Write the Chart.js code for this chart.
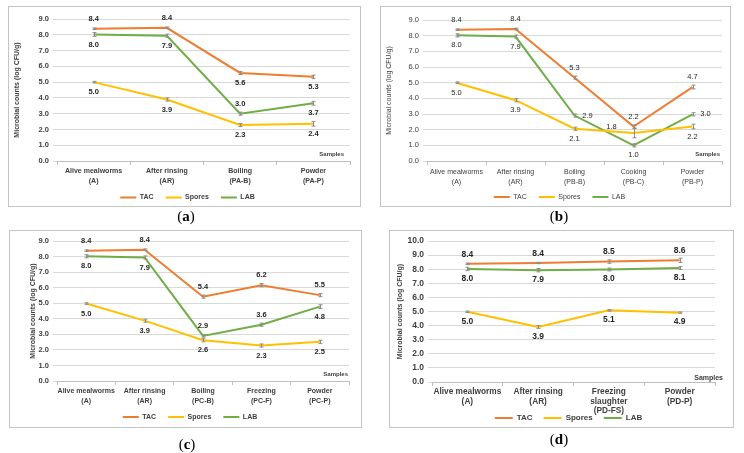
<!DOCTYPE html>
<html>
<head>
<meta charset="utf-8">
<script src="https://cdn.jsdelivr.net/npm/chart.js@4.4.0/dist/chart.umd.min.js"></script>
<style>
  body { margin: 0; width: 744px; height: 453px; background: #fff; position: relative; overflow: hidden; }
  .frame { position: absolute; border: 1px solid #c4c4c4; box-sizing: border-box; }
  canvas { position: absolute; }
  .cap { position: absolute; font-family: "Liberation Serif", "Times New Roman", serif; font-size: 15px; color: #000; transform: translate(-50%, -50%); white-space: nowrap; }
</style>
</head>
<body>
<script>
// ---- data: (a) ----
const catsA = [['Alive mealworms', '(A)'], ['After rinsing', '(AR)'], ['Boiling', '(PA-B)'], ['Powder', '(PA-P)']];
const tacA = [8.38, 8.44, 5.58, 5.34];
const sporesA = [5.0, 3.9, 2.28, 2.36];
const labA = [8.02, 7.94, 3.0, 3.66];
const tacErrA = [0.05, 0.05, 0.1, 0.1];
const sporesErrA = [0.05, 0.1, 0.1, 0.15];
const labErrA = [0.12, 0.1, 0.1, 0.12];

// ---- (b) ----
const catsB = [['Alive mealworms', '(A)'], ['After rinsing', '(AR)'], ['Boiling', '(PB-B)'], ['Cooking', '(PB-C)'], ['Powder', '(PB-P)']];
const tacB = [8.38, 8.43, 5.32, 2.2, 4.72];
const sporesB = [5.0, 3.88, 2.06, 1.78, 2.2];
const labB = [8.02, 7.94, 2.9, 1.0, 2.98];
const tacErrB = [0.05, 0.05, 0.1, 0.1, 0.12];
const sporesErrB = [0.05, 0.1, 0.1, 0.3, 0.15];
const labErrB = [0.1, 0.1, 0.1, 0.1, 0.1];

// ---- (c) ----
const catsC = [['Alive mealworms', '(A)'], ['After rinsing', '(AR)'], ['Boiling', '(PC-B)'], ['Freezing', '(PC-F)'], ['Powder', '(PC-P)']];
const tacC = [8.38, 8.44, 5.42, 6.16, 5.52];
const sporesC = [4.98, 3.88, 2.62, 2.28, 2.52];
const labC = [8.02, 7.94, 2.9, 3.62, 4.78];
const tacErrC = [0.05, 0.05, 0.1, 0.1, 0.1];
const sporesErrC = [0.05, 0.1, 0.1, 0.1, 0.1];
const labErrC = [0.1, 0.1, 0.08, 0.1, 0.12];

// ---- (d) ----
const catsD = [['Alive mealworms', '(A)'], ['After rinsing', '(AR)'], ['Freezing', 'slaughter', '(PD-FS)'], ['Powder', '(PD-P)']];
const tacD = [8.38, 8.44, 8.54, 8.63];
const sporesD = [4.98, 3.9, 5.08, 4.92];
const labD = [8.02, 7.93, 7.98, 8.08];
const tacErrD = [0.05, 0.05, 0.12, 0.15];
const sporesErrD = [0.05, 0.1, 0.05, 0.05];
const labErrD = [0.12, 0.12, 0.1, 0.1];

const yMaxABC = 9;
const yMaxD = 10;

const COLORS = { tac: '#ED7D31', spores: '#FFC000', lab: '#70AD47' };
const FAMILY = '"Liberation Sans", Arial, sans-serif';

// where each value label sits relative to its point (units of the panel gap)
const LABEL_OFFSETS = { t: [0, -1], b: [0, 1], r: [1.3, 0], l: [-2.2, -0.6] };

// error bars, value labels and the "Samples" note
const extras = {
  id: 'extras',
  afterLayout(chart, args, opts) {
    // move the legend so it sits where the original one is (it overlaps the tick area in (d))
    const lg = chart.legend;
    if (!lg) return;
    const dy = opts.legendTop - lg.top;
    const dx = opts.legendX - (lg.left + lg.right) / 2;
    lg.top += dy; lg.bottom += dy;
    lg.left += dx; lg.right += dx;
  },
  afterDatasetsDraw(chart, args, opts) {
    const { ctx, chartArea } = chart;
    const yScale = chart.scales.y;
    ctx.save();
    ctx.strokeStyle = '#8c8c8c';
    ctx.lineWidth = 1;
    chart.data.datasets.forEach((ds, i) => {
      chart.getDatasetMeta(i).data.forEach((pt, j) => {
        const e = ds.errors[j];
        const y1 = yScale.getPixelForValue(ds.data[j] - e);
        const y2 = yScale.getPixelForValue(ds.data[j] + e);
        const x = Math.round(pt.x) + 0.5;
        ctx.beginPath();
        ctx.moveTo(x, y1); ctx.lineTo(x, y2);
        ctx.moveTo(x - 2, y1); ctx.lineTo(x + 2, y1);
        ctx.moveTo(x - 2, y2); ctx.lineTo(x + 2, y2);
        ctx.stroke();
      });
    });

    ctx.font = opts.labelFont;
    ctx.fillStyle = '#262626';
    ctx.textAlign = 'center';
    ctx.textBaseline = 'middle';
    chart.data.datasets.forEach((ds, i) => {
      chart.getDatasetMeta(i).data.forEach((pt, j) => {
        const o = LABEL_OFFSETS[ds.labelPos[j]];
        ctx.fillText(ds.data[j].toFixed(1), pt.x + o[0] * opts.gap, pt.y + o[1] * opts.gap);
      });
    });

    ctx.font = opts.samplesFont;
    ctx.fillStyle = '#404040';
    ctx.textAlign = 'right';
    ctx.fillText('Samples', chartArea.right + opts.samplesDx, chartArea.bottom + opts.samplesDy);
    ctx.restore();
  }
};

const panels = [
  {
    name: 'a', cats: catsA, yMax: yMaxABC,
    tac: tacA, spores: sporesA, lab: labA, tacErr: tacErrA, sporesErr: sporesErrA, labErr: labErrA,
    tacPos: ['t', 't', 'b', 'b'], sporesPos: ['b', 'b', 'b', 'b'], labPos: ['b', 'b', 't', 'b'],
    frame: [8, 6, 353, 201], area: [49, 13, 342, 155], legendY: 191.5, legendX: 179.5,
    bold: true, tickSize: 7.5, catSize: 7, catLine: 1.43, catPad: 1,
    legendSize: 7, legendPad: 12, legendLine: 16, labelSize: 7.5, gap: 10,
    titleSize: 7, titleX: 9, samplesSize: 6, samplesDx: -6, samplesDy: -7, cap: [186, 216]
  },
  {
    name: 'b', cats: catsB, yMax: yMaxABC,
    tac: tacB, spores: sporesB, lab: labB, tacErr: tacErrB, sporesErr: sporesErrB, labErr: labErrB,
    tacPos: ['t', 't', 't', 't', 't'], sporesPos: ['b', 'b', 'b', 'l', 'b'], labPos: ['b', 'b', 'r', 'b', 'r'],
    frame: [380, 6, 351, 201], area: [47, 14, 342, 155], legendY: 191, legendX: 179.5,
    bold: false, tickSize: 7.5, catSize: 7, catLine: 1.43, catPad: 2,
    legendSize: 7, legendPad: 12, legendLine: 16, labelSize: 7.5, gap: 10,
    titleSize: 7, titleX: 9, samplesSize: 6, samplesDx: -2, samplesDy: -7, cap: [559, 216]
  },
  {
    name: 'c', cats: catsC, yMax: yMaxABC,
    tac: tacC, spores: sporesC, lab: labC, tacErr: tacErrC, sporesErr: sporesErrC, labErr: labErrC,
    tacPos: ['t', 't', 't', 't', 't'], sporesPos: ['b', 'b', 'b', 'b', 'b'], labPos: ['b', 'b', 't', 't', 'b'],
    frame: [9, 230, 353, 198], area: [48, 11, 340, 151], legendY: 187, legendX: 181,
    bold: true, tickSize: 7.5, catSize: 7, catLine: 1.43, catPad: 1,
    legendSize: 7, legendPad: 12, legendLine: 16, labelSize: 7.5, gap: 10,
    titleSize: 7, titleX: 24, samplesSize: 6, samplesDx: -1, samplesDy: -7, cap: [187, 444]
  },
  {
    name: 'd', cats: catsD, yMax: yMaxD,
    tac: tacD, spores: sporesD, lab: labD, tacErr: tacErrD, sporesErr: sporesErrD, labErr: labErrD,
    tacPos: ['t', 't', 't', 't'], sporesPos: ['b', 'b', 'b', 'b'], labPos: ['b', 'b', 'b', 'b'],
    frame: [389, 230, 345, 198], area: [43, 11, 326, 152], legendY: 188, legendX: 179.5,
    bold: true, tickSize: 8.5, catSize: 8.3, catLine: 1.12, catPad: 1.5,
    legendSize: 8, legendPad: 11, legendLine: 18, labelSize: 8.5, gap: 9.5,
    titleSize: 7, titleX: 11, samplesSize: 7, samplesDx: 8, samplesDy: -4, cap: [559, 439]
  }
];

const buildPanel = (p) => {
  const [fx, fy, fw, fh] = p.frame;
  const [L, T, R, B] = p.area;

  const frame = document.createElement('div');
  frame.className = 'frame';
  Object.assign(frame.style, { left: fx + 'px', top: fy + 'px', width: fw + 'px', height: fh + 'px' });
  document.body.appendChild(frame);

  // x axis tall enough for all tick lines, legend placed afterwards by the plugin
  const maxLines = Math.max(...p.cats.map(c => c.length));
  const xHeight = Math.ceil(4 + p.catPad + maxLines * p.catSize * p.catLine + 1);
  const legendHeight = p.legendSize + p.legendPad + 10;
  const H = Math.max(fh, B + xHeight + legendHeight + 2);
  const padBottom = H - B - xHeight - legendHeight;

  const canvas = document.createElement('canvas');
  canvas.width = fw;
  canvas.height = H;
  Object.assign(canvas.style, { left: fx + 'px', top: fy + 'px', width: fw + 'px', height: H + 'px' });
  document.body.appendChild(canvas);

  const weight = p.bold ? 'bold' : 'normal';
  const titlePad = p.titleX - p.titleSize * 0.6;

  new Chart(canvas, {
    type: 'line',
    data: {
      labels: p.cats,
      datasets: [
        { label: 'TAC', data: p.tac, errors: p.tacErr, labelPos: p.tacPos, borderColor: COLORS.tac, backgroundColor: COLORS.tac, pointBorderWidth: 2 },
        { label: 'Spores', data: p.spores, errors: p.sporesErr, labelPos: p.sporesPos, borderColor: COLORS.spores, backgroundColor: COLORS.spores, pointBorderWidth: 2 },
        { label: 'LAB', data: p.lab, errors: p.labErr, labelPos: p.labPos, borderColor: COLORS.lab, backgroundColor: COLORS.lab, pointBorderWidth: 2 }
      ]
    },
    options: {
      responsive: false,
      animation: false,
      events: [],
      layout: { padding: { left: 0, top: T, right: fw - R, bottom: padBottom } },
      elements: {
        line: { borderWidth: 2, tension: 0, fill: false },
        point: { radius: 0, hoverRadius: 0 }
      },
      scales: {
        x: {
          offset: true,
          grid: { offset: true, drawOnChartArea: false, tickLength: 4, color: '#bfbfbf' },
          border: { color: '#bfbfbf' },
          ticks: {
            padding: p.catPad, maxRotation: 0, autoSkip: false, color: '#404040',
            font: { family: FAMILY, size: p.catSize, weight, lineHeight: p.catLine }
          },
          afterFit: (s) => { s.height = xHeight; }
        },
        y: {
          min: 0,
          max: p.yMax,
          grid: { color: '#d9d9d9', tickLength: 4 },
          border: { display: false },
          ticks: {
            stepSize: 1, padding: 4, color: '#404040',
            font: { family: FAMILY, size: p.tickSize, weight },
            callback: (v) => v.toFixed(1)
          },
          title: {
            display: true,
            text: 'Microbial counts (log CFU/g)',
            color: '#404040',
            font: { family: FAMILY, size: p.titleSize, weight, lineHeight: 1.2 },
            padding: { top: titlePad, bottom: 0 }
          },
          afterFit: (s) => { s.width = L; }
        }
      },
      plugins: {
        legend: {
          position: 'bottom',
          labels: {
            usePointStyle: true,
            pointStyle: 'line',
            pointStyleWidth: p.legendLine,
            padding: p.legendPad,
            color: '#404040',
            font: { family: FAMILY, size: p.legendSize, weight }
          }
        },
        tooltip: { enabled: false },
        extras: {
          labelFont: `${weight} ${p.labelSize}px ${FAMILY}`,
          samplesFont: `bold ${p.samplesSize}px ${FAMILY}`,
          gap: p.gap,
          samplesDx: p.samplesDx,
          samplesDy: p.samplesDy,
          legendTop: p.legendY - p.legendPad - p.legendSize / 2,
          legendX: p.legendX
        }
      }
    },
    plugins: [extras]
  });

  const cap = document.createElement('div');
  cap.className = 'cap';
  cap.innerHTML = `(<b>${p.name}</b>)`;
  Object.assign(cap.style, { left: p.cap[0] + 'px', top: p.cap[1] + 'px' });
  document.body.appendChild(cap);
};

panels.forEach(buildPanel);
</script>
</body>
</html>
